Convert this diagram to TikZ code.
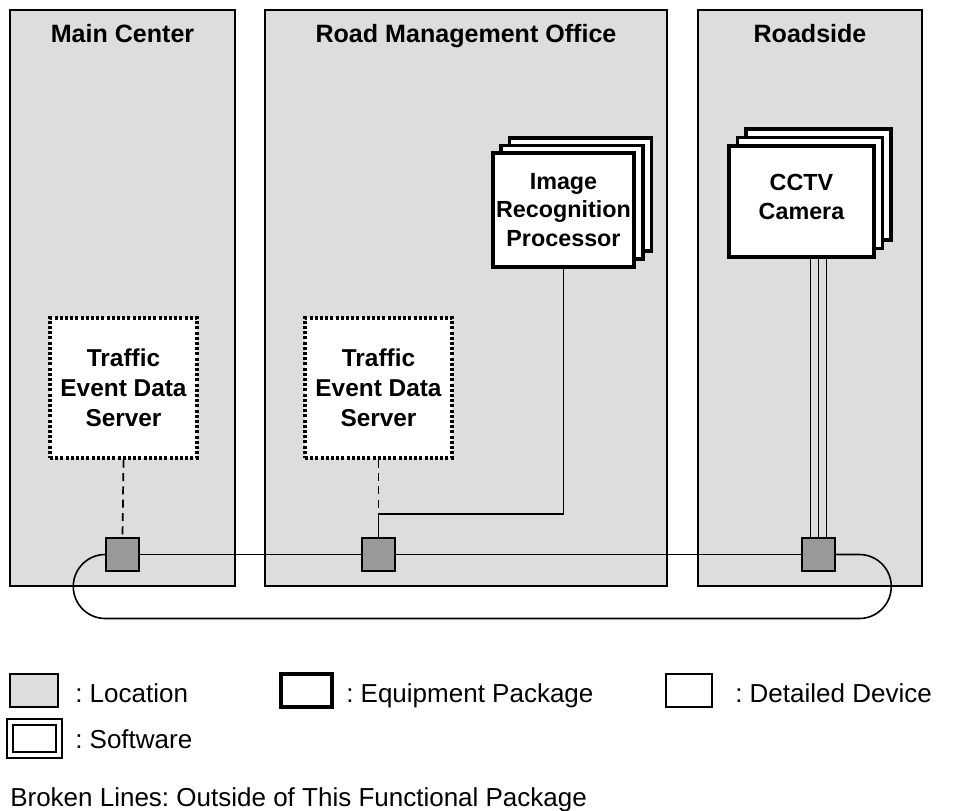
\documentclass[tikz,border=0pt]{standalone}
\usepackage{fontspec}
\setmainfont{Liberation Sans}
\usetikzlibrary{calc}
\definecolor{panelgray}{RGB}{221,221,221}
\definecolor{hubgray}{RGB}{153,153,153}
\frenchspacing
\begin{document}
\frenchspacing
\begin{tikzpicture}[x=0.75pt,y=-0.75pt,
  panel/.style={draw=black,line width=1.1pt,fill=panelgray},
  ptitle/.style={anchor=base,font=\fontsize{18.8}{22}\selectfont\bfseries,inner sep=0pt},
  equip/.style={draw=black,line width=2.7pt,fill=white,inner sep=0pt,align=center,
    font=\fontsize{17.5}{21.5}\selectfont\bfseries},
  swbox/.style={draw=black,line width=2.6pt,dash pattern=on 2.3pt off 1.6pt,fill=white,inner sep=0pt,
    align=center,font=\fontsize{18.3}{22.5}\selectfont\bfseries},
  hub/.style={draw=black,line width=1.1pt,fill=hubgray,minimum width=24.75pt,minimum height=24.75pt,inner sep=0pt},
  bus/.style={draw=black,line width=1.2pt},
  brokenln/.style={draw=black,line width=1.3pt,dash pattern=on 6pt off 4pt},
  legtext/.style={anchor=base west,font=\fontsize{19.5}{22}\selectfont,inner sep=0pt}]
\useasboundingbox (0,0) rectangle (954,811);
% panels
\path[panel] (10,10) rectangle (235,586);
\path[panel] (265,10) rectangle (667,586);
\path[panel] (698,10) rectangle (922,586);
\node[ptitle] (tmain) at (122.5,42) {Main Center};
\node[ptitle] (trmo) at (466,42) {Road Management Office};
\node[ptitle] (troad) at (810,42) {Roadside};
% hubs
\node[hub] (hubA) at (122.5,554.5) {};
\node[hub] (hubB) at (378.5,554.5) {};
\node[hub] (hubC) at (818.5,554.5) {};
% software boxes
\node[swbox,minimum width=110.25pt,minimum height=105pt] (tedsA) at (123.5,388) {Traffic\\Event Data\\Server};
\node[swbox,minimum width=110.25pt,minimum height=105pt] (tedsB) at (378.5,388) {Traffic\\Event Data\\Server};
% image recognition processor
\draw[equip] (509.5,138) rectangle (651.5,251);
\draw[equip] (501,145.5) rectangle (643,259);
\node[equip,minimum width=105.75pt,minimum height=85.5pt] (proc) at (563.5,210) {Image\\Recognition\\Processor};
% CCTV
\draw[equip] (746,129) rectangle (891,240);
\draw[equip] (737.5,137.5) rectangle (882.5,248.5);
\node[equip,minimum width=108.75pt,minimum height=83.25pt] (cctv) at (801.5,201.5) {};
\node[align=center,font=\fontsize{17.5}{21.5}\selectfont\bfseries,inner sep=0pt] (cctvtext) at (801.5,197) {CCTV\\Camera};
% connectors
\coordinate (jB) at (378.5,514);
\draw[brokenln] (tedsA.south) -- (hubA.north);
\draw[brokenln] (tedsB.south) -- (jB);
\draw[bus,line width=1.4pt] (proc.south) |- (jB) -- (hubB.north);
\draw[bus] ($(cctv.south -| hubC)+(-8,0)$) -- ($(hubC.north)+(-8,0)$);
\draw[bus] (cctv.south -| hubC) -- (hubC.north);
\draw[bus] ($(cctv.south -| hubC)+(8,0)$) -- ($(hubC.north)+(8,0)$);
\draw[bus] (hubA.east) -- (hubB.west);
\draw[bus] (hubB.east) -- (hubC.west);
\draw[bus] (hubA.west) arc[start angle=90,end angle=270,radius=24pt] -- ++(754,0)
  arc[start angle=270,end angle=450,radius=24pt] -- (hubC.east);
% legend
\draw[draw=black,line width=1.1pt,fill=panelgray] (10,674) rectangle (58,707);
\node[legtext] (lloc) at (75,702) {: Location};
\draw[draw=black,line width=2.7pt] (281,674) rectangle (332,707);
\node[legtext] (lequ) at (346,702) {: Equipment Package};
\draw[draw=black,line width=1.1pt] (666,674) rectangle (712,707);
\node[legtext] (ldet) at (735,702) {: Detailed Device};
\draw[draw=black,line width=1.5pt] (7,719) rectangle (62,758);
\draw[draw=black,line width=1.5pt] (13,725) rectangle (56,752);
\node[legtext] (lsw) at (75,748) {: Software};
\node[legtext] (lbro) at (10,806) {Broken Lines: Outside of This Functional Package};
\end{tikzpicture}
\end{document}
